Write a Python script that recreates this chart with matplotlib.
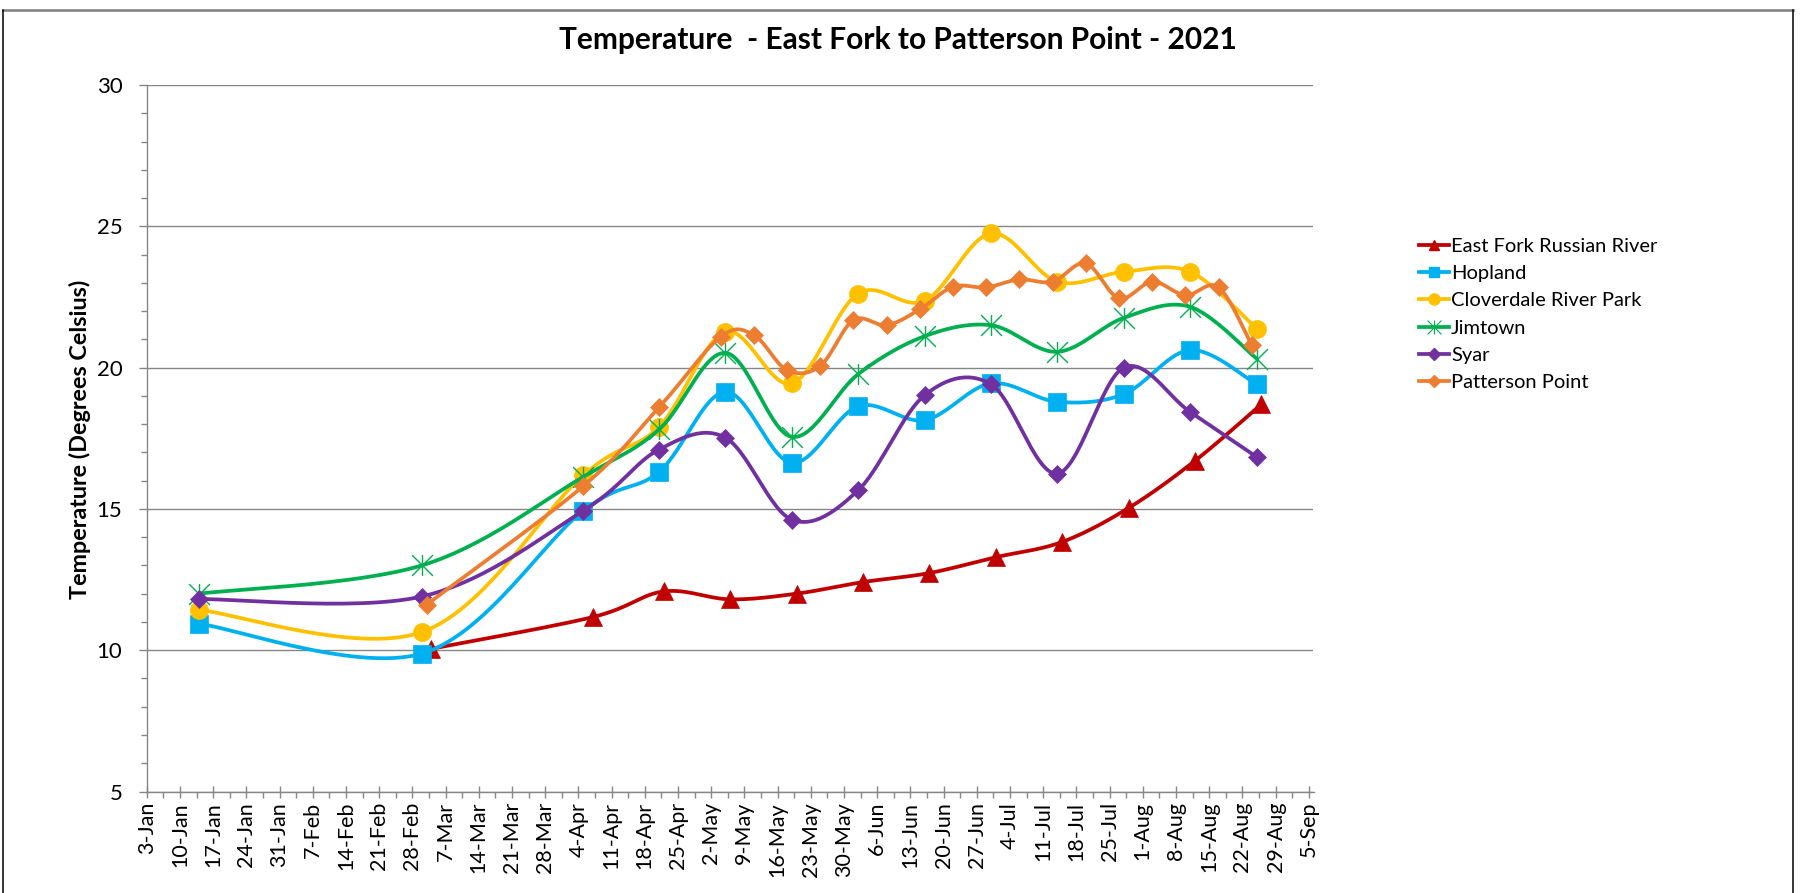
import numpy as np
import matplotlib
matplotlib.use("Agg")
import matplotlib.pyplot as plt
import matplotlib.dates as mdates
from matplotlib.path import Path
from matplotlib.lines import Line2D
from matplotlib.ticker import MultipleLocator, FixedLocator

plt.rcParams['font.family'] = ['Lato', 'DejaVu Sans']

TITLE = "Temperature  - East Fork to Patterson Point - 2021"
Y_LABEL = "Temperature (Degrees Celsius)"

# ---- sampling data (degrees Celsius) ----
east_fork_dates = ["2021-03-04", "2021-04-07", "2021-04-22", "2021-05-06", "2021-05-20", "2021-06-03",
                   "2021-06-17", "2021-07-01", "2021-07-15", "2021-07-29", "2021-08-12", "2021-08-26"]
east_fork_temps = [10.05, 11.17, 12.08, 11.8, 12.0, 12.41, 12.73, 13.29, 13.83, 15.03, 16.70, 18.70]

site_dates = ["2021-01-14", "2021-03-02", "2021-04-05", "2021-04-21", "2021-05-05", "2021-05-19",
              "2021-06-02", "2021-06-16", "2021-06-30", "2021-07-14", "2021-07-28", "2021-08-11",
              "2021-08-25"]
hopland_temps = [10.94, 9.88, 14.93, 16.31, 19.14, 16.63, 18.63, 18.14, 19.44, 18.79, 19.06, 20.62, 19.41]
cloverdale_temps = [11.43, 10.64, 16.19, 17.9, 21.26, 19.44, 22.62, 22.36, 24.75, 23.04, 23.39, 23.39, 21.38]
jimtown_temps = [12.0, 13.0, 16.13, 17.81, 20.52, 17.55, 19.77, 21.11, 21.5, 20.56, 21.76, 22.15, 20.32]
syar_temps = [11.81, 11.9, 14.93, 17.1, 17.52, 14.62, 15.66, 19.02, 19.41, 16.25, 20.0, 18.43, 16.84]

patterson_dates = ["2021-03-03", "2021-04-05", "2021-04-21", "2021-05-04", "2021-05-11", "2021-05-18",
                   "2021-05-25", "2021-06-01", "2021-06-08", "2021-06-15", "2021-06-22", "2021-06-29",
                   "2021-07-06", "2021-07-13", "2021-07-20", "2021-07-27", "2021-08-03", "2021-08-10",
                   "2021-08-17", "2021-08-24"]
patterson_temps = [11.61, 15.8, 18.59, 21.09, 21.15, 19.91, 20.06, 21.68, 21.5, 22.06, 22.86, 22.84,
                   23.12, 23.04, 23.69, 22.45, 23.04, 22.56, 22.84, 20.79]

series_names = ["East Fork Russian River", "Hopland", "Cloverdale River Park", "Jimtown", "Syar",
                "Patterson Point"]

# axis range and weekly ticks
x_start, x_end = "2021-01-03", "2021-09-06"
tick_start, tick_end = "2021-01-03", "2021-09-05"
y_min, y_max = 5, 30


def to_num(dates):
    return mdates.date2num(np.array(dates, dtype="datetime64[D]"))


def smooth_curve(x, y, n=30):
    """Piecewise cubic Bezier through the points (Catmull-Rom style tangents)."""
    x = np.asarray(x, float)
    y = np.asarray(y, float)
    px = np.concatenate([[x[0]], x, [x[-1]]])
    py = np.concatenate([[y[0]], y, [y[-1]]])
    t = np.linspace(0, 1, n + 1)[1:]
    xs, ys = [x[0]], [y[0]]
    for i in range(len(x) - 1):
        p0 = np.array([px[i], py[i]])
        p1 = np.array([px[i + 1], py[i + 1]])
        p2 = np.array([px[i + 2], py[i + 2]])
        p3 = np.array([px[i + 3], py[i + 3]])
        c1 = p1 + (p2 - p0) / 6.0
        c2 = p2 - (p3 - p1) / 6.0
        b = ((1 - t) ** 3)[:, None] * p1 + (3 * (1 - t) ** 2 * t)[:, None] * c1 \
            + (3 * (1 - t) * t ** 2)[:, None] * c2 + (t ** 3)[:, None] * p2
        xs.extend(b[:, 0])
        ys.extend(b[:, 1])
    return np.array(xs), np.array(ys)


# six-armed star: an X plus a vertical bar
star_marker = Path([(-1, -1), (1, 1), (-1, 1), (1, -1), (0, -1), (0, 1)],
                   [Path.MOVETO, Path.LINETO, Path.MOVETO, Path.LINETO, Path.MOVETO, Path.LINETO])

styles = [
    dict(color="#C00000", marker="^", ms=13.5, lms=7.5),
    dict(color="#00B0F0", marker="s", ms=12.5, lms=7.5),
    dict(color="#FFC000", marker="o", ms=13.0, lms=8),
    dict(color="#00B050", marker=star_marker, ms=15.0, lms=10),
    dict(color="#7030A0", marker="D", ms=9.0, lms=6),
    dict(color="#ED7D31", marker="D", ms=9.0, lms=6),
]

series = [
    (east_fork_dates, east_fork_temps),
    (site_dates, hopland_temps),
    (site_dates, cloverdale_temps),
    (site_dates, jimtown_temps),
    (site_dates, syar_temps),
    (patterson_dates, patterson_temps),
]

W, H = 1804, 893
fig = plt.figure(figsize=(W / 100, H / 100), dpi=100)
ax = fig.add_axes([146.7 / W, 1 - 791.5 / H, (1313.5 - 146.7) / W, (791.5 - 85) / H])

axis_gray = "#868686"
lw = 2.7
handles = []
for k, ((dates, temps), st, name) in enumerate(zip(series, styles, series_names)):
    xd = to_num(dates)
    sx, sy = smooth_curve(xd, temps)
    ax.plot(sx, sy, color=st["color"], lw=lw, solid_capstyle="round", zorder=3 + 2 * k)
    if st["marker"] is star_marker:
        ax.plot(xd, temps, ls="none", marker=st["marker"], ms=st["ms"], mfc="none",
                mec=st["color"], mew=1.0, zorder=4 + 2 * k)
        handles.append(Line2D([], [], color=st["color"], lw=lw, marker=st["marker"], ms=st["lms"],
                              mfc="none", mec=st["color"], mew=0.8))
    else:
        ax.plot(xd, temps, ls="none", marker=st["marker"], ms=st["ms"], mfc=st["color"],
                mec=st["color"], mew=0.5, zorder=4 + 2 * k)
        handles.append(Line2D([], [], color=st["color"], lw=lw, marker=st["marker"], ms=st["lms"],
                              mfc=st["color"], mec=st["color"]))

# axes styling
ax.set_xlim(to_num([x_start])[0], to_num([x_end])[0])
ax.set_ylim(y_min, y_max)
for side in ("top", "right"):
    ax.spines[side].set_visible(False)
for side in ("left", "bottom"):
    ax.spines[side].set_color(axis_gray)
    ax.spines[side].set_linewidth(1.0)

ax.yaxis.set_major_locator(MultipleLocator(5))
ax.yaxis.set_minor_locator(MultipleLocator(1))
ax.grid(axis="y", which="major", color=axis_gray, lw=1.0, zorder=1)
ax.set_axisbelow(True)

week_ticks = np.arange(np.datetime64(tick_start), np.datetime64(tick_end) + 1, 7)
major_x = mdates.date2num(week_ticks)
ax.xaxis.set_major_locator(FixedLocator(major_x))
ax.xaxis.set_minor_locator(FixedLocator(major_x[:-1] + 3.5))
ax.xaxis.set_major_formatter(mdates.DateFormatter("%-d-%b"))

ax.tick_params(axis="x", which="major", direction="inout", length=9, width=1.0, color=axis_gray,
               labelsize=15.5, labelrotation=90, pad=3)
ax.tick_params(axis="x", which="minor", direction="out", length=4.5, width=1.0, color=axis_gray)
ax.tick_params(axis="y", which="major", direction="out", length=5.5, width=1.0, color=axis_gray,
               labelsize=16, pad=12)
ax.tick_params(axis="y", which="minor", direction="out", length=4.5, width=1.0, color=axis_gray)

fig.text(0.4978, 1 - 40 / H, TITLE, ha="center", va="center", fontsize=21.5, fontweight="bold")
fig.text(86.7 / W, 0.508, Y_LABEL, rotation=90, rotation_mode="anchor", ha="center", va="baseline",
         fontsize=16.8, fontweight="bold")

fig.legend(handles, series_names, loc="upper left", bbox_to_anchor=(1419 / W, 1 - 238 / H),
           frameon=False, fontsize=14.5, handlelength=1.5, handletextpad=0.1, labelspacing=0.5,
           borderpad=0, borderaxespad=0)

# chart frame
fig.add_artist(Line2D([3 / W, 1793.3 / W], [1 - 10 / H, 1 - 10 / H], transform=fig.transFigure,
                      color="#7f7f7f", lw=1.8))
fig.add_artist(Line2D([3 / W, 3 / W], [0, 1 - 10 / H], transform=fig.transFigure,
                      color="black", lw=1.1))
fig.add_artist(Line2D([1793.3 / W, 1793.3 / W], [0, 1 - 10 / H], transform=fig.transFigure,
                      color="black", lw=1.1))

fig.savefig("out.png", dpi=100)
